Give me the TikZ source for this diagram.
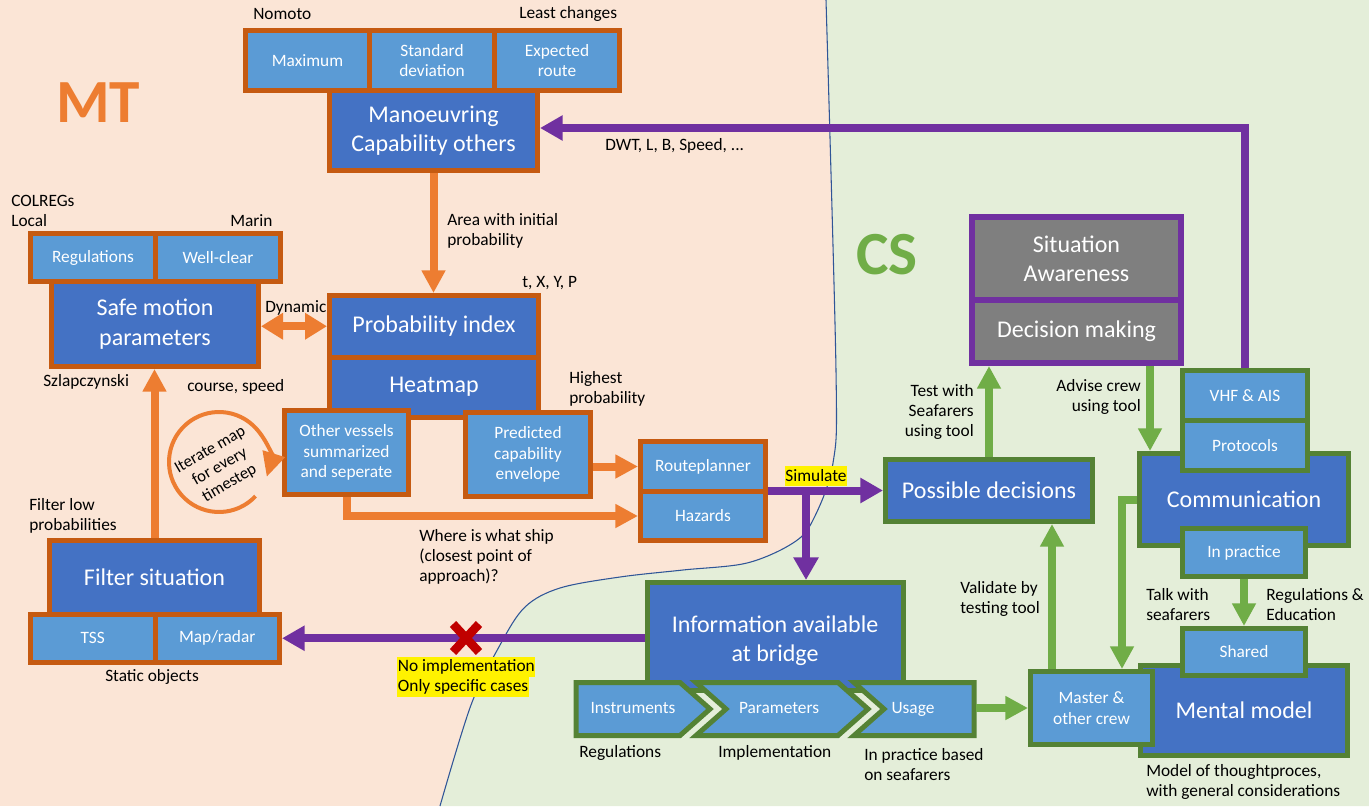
\documentclass[tikz,border=0pt]{standalone}
\usepackage{fontspec}
\setmainfont{Carlito}
\usetikzlibrary{arrows.meta,calc}
\definecolor{bgsal}{HTML}{FBE5D6}
\definecolor{bggrn}{HTML}{E4EED9}
\definecolor{dblue}{HTML}{4472C4}
\definecolor{lblue}{HTML}{5B9BD5}
\definecolor{obord}{HTML}{C55A11}
\definecolor{oarrow}{HTML}{ED7D31}
\definecolor{purp}{HTML}{7030A0}
\definecolor{gbord}{HTML}{548235}
\definecolor{garrow}{HTML}{70AD47}
\definecolor{gboxc}{HTML}{7F7F7F}
\definecolor{bline}{HTML}{2F5597}
\definecolor{xred}{HTML}{C00000}
\tikzset{
 bx/.style={inner sep=0pt, line width=3.75pt, text=white, align=center},
 ob/.style={bx, draw=obord},
 gb/.style={bx, draw=gbord},
 pb/.style={bx, draw=purp, line width=4.5pt},
 bigtxt/.style={font=\fontsize{18}{22}\selectfont},
 smtxt/.style={font=\fontsize{13}{15.5}\selectfont},
 fdk/.style={fill=dblue}, flt/.style={fill=lblue}, fgr/.style={fill=gboxc},
 lbl/.style={font=\fontsize{13}{15}\selectfont, inner sep=0pt, text=black},
 oarr/.style={draw=oarrow, line width=6pt, -{Triangle[length=17pt,width=17pt]}},
 parr/.style={draw=purp, line width=6pt, -{Triangle[length=17pt,width=18pt]}},
 garr/.style={draw=garrow, line width=6pt, -{Triangle[length=17pt,width=17pt]}},
 hlt/.style={lbl, fill=yellow, inner xsep=0.5pt, inner ysep=0pt, minimum height=15pt},
 chev/.style={draw=gbord, fill=lblue, line width=3.75pt},
}
% box node from border-line corners (x1,y1)-(x2,y2) in pixel units
\newcommand\bxnode[7]{%
  \node[#1, minimum width={(#5-#3)*0.75pt}, minimum height={(#6-#4)*0.75pt}] (#2) at ({(#3+#5)/2},{(#4+#6)/2}) {#7};}
\begin{document}
\begin{tikzpicture}[x=0.75pt,y=-0.75pt]
\useasboundingbox (0,0) rectangle (1369,806);
% background
\fill[bgsal] (0,0) rectangle (1369,806);
\fill[bggrn] plot[smooth, tension=0.55] coordinates {(826,0) (836,371) (833,463) (813,520) (793,543) (747,563) (683,570) (620,577) (560,588) (525,607) (500,645) (471,705) (440,806)} -- (1369,806) -- (1369,0) -- cycle;
\draw[bline, line width=0.8pt] plot[smooth, tension=0.55] coordinates {(826,0) (836,371) (833,463) (813,520) (793,543) (747,563) (683,570) (620,577) (560,588) (525,607) (500,645) (471,705) (440,806)};

% titles
\node[font={\fontsize{46}{50}\selectfont\bfseries}, text=oarrow] (mt) at (98,103) {MT};
\node[font={\fontsize{46}{50}\selectfont\bfseries}, text=garrow] (cs) at (887,255) {CS};

% top group
\bxnode{ob,flt,smtxt}{maxi}{245.5}{30.5}{369.5}{90.5}{Maximum}
\bxnode{ob,flt,smtxt}{stdv}{369.5}{30.5}{494.5}{90.5}{Standard\\deviation}
\bxnode{ob,flt,smtxt}{expr}{494.5}{30.5}{619.5}{90.5}{Expected\\route}
\bxnode{ob,fdk,bigtxt}{mano}{329.5}{90.5}{537.5}{170.5}{Manoeuvring\\Capability others}

% regulations group
\bxnode{ob,flt,smtxt}{regs}{30.5}{233.5}{155.5}{281.5}{Regulations}
\bxnode{ob,flt,smtxt}{wellc}{155.5}{233.5}{280.5}{281.5}{Well-clear}
\bxnode{ob,fdk,bigtxt}{safe}{51.5}{281.5}{258.5}{366.5}{Safe motion\\parameters}

% probability / heatmap
\bxnode{ob,fdk,bigtxt}{prob}{329.5}{295.5}{538.5}{357}{Probability index}
\bxnode{ob,fdk,bigtxt}{heat}{329.5}{357}{538.5}{417}{Heatmap}
\bxnode{ob,flt,smtxt}{other}{284.5}{410.5}{408.5}{494.5}{Other vessels\\summarized\\and seperate}
\bxnode{ob,flt,smtxt}{pred}{465.5}{412.5}{590.5}{496.5}{Predicted\\capability\\envelope}
\bxnode{ob,flt,smtxt}{route}{640.5}{441.5}{765.5}{491.5}{Routeplanner}
\bxnode{ob,flt,smtxt}{haz}{640.5}{491.5}{765.5}{540.5}{Hazards}

% filter
\bxnode{ob,fdk,bigtxt}{filt}{49.5}{540.5}{259.5}{614}{Filter situation}
\bxnode{ob,flt,smtxt}{tss}{30.5}{614}{155}{662.5}{TSS}
\bxnode{ob,flt,smtxt}{mapr}{155}{614}{279.5}{662.5}{Map/radar}

% right side
\bxnode{pb,fgr,bigtxt}{sit}{972}{217}{1181}{300}{Situation\\Awareness}
\bxnode{pb,fgr,bigtxt}{dec}{972}{300}{1181}{363}{Decision making}
\bxnode{gb,fdk,bigtxt}{poss}{885.5}{459.5}{1092.5}{521.5}{Possible decisions}
\bxnode{gb,fdk,bigtxt}{comm}{1139.5}{453.5}{1348.5}{545.5}{Communication}
\bxnode{gb,flt,smtxt}{vhf}{1182.5}{370.5}{1307.5}{420.5}{VHF \& AIS}
\bxnode{gb,flt,smtxt}{proto}{1182.5}{420.5}{1307.5}{470.5}{Protocols}
\bxnode{gb,flt,smtxt}{inpr}{1182.5}{528.5}{1305.5}{576.5}{In practice}
\bxnode{gb,fdk,bigtxt}{mental}{1140.5}{665.5}{1347.5}{755.5}{Mental model}
\bxnode{gb,flt,smtxt}{shared}{1182.5}{628.5}{1305.5}{675.5}{Shared}
\bxnode{gb,flt,smtxt}{master}{1030.5}{671.5}{1152.5}{744.5}{Master \&\\other crew}

% information at bridge
\bxnode{gb,fdk}{info}{647.5}{582.5}{903.5}{690}{}
\node[bigtxt,text=white,align=center] (infot) at (775,641) {Information available\\at bridge};
\draw[chev] (576,682.5) -- (680,682.5) -- (710,709) -- (680,735.5) -- (576,735.5) -- cycle;
\draw[chev] (696,682.5) -- (838,682.5) -- (868,709) -- (838,735.5) -- (696,735.5) -- (726,709) -- cycle;
\draw[chev] (854,682.5) -- (974,682.5) -- (974,735.5) -- (854,735.5) -- (884,709) -- cycle;
\node[smtxt,text=white] (instr) at (633,708) {Instruments};
\node[smtxt,text=white] (param) at (779,708) {Parameters};
\node[smtxt,text=white] (usage) at (913,709) {Usage};

% helper coordinates
\coordinate (k128) at (0,128);
\coordinate (simc) at (806,0);
\coordinate (g1052) at (1052,0);
\coordinate (g1122) at (1122,0);
\coordinate (g1150) at (1150,0);
\coordinate (usageR) at (976,708);

% orange connectors
\draw[oarr] (mano.south) -- (mano.south |- prob.north);
\draw[draw=oarrow, line width=6pt, {Triangle[length=16.5pt,width=19pt]}-{Triangle[length=16.5pt,width=19pt]}] (safe.east |- prob.west) -- (prob.west);
\draw[oarr] (filt.north) -- (filt.north |- safe.south);
\draw[oarr] (other.south) |- (haz.west);
\draw[oarr] (pred.east |- route.west) -- (route.west);
\draw[draw=oarrow, line width=3pt, -{Triangle[length=18pt,width=17pt]}] (219,462) ++(43:50) arc[start angle=43, end angle=377, radius=50];
\node[lbl, font=\fontsize{12.5}{14.5}\selectfont, rotate=30, align=center] (iter) at (220,467) {Iterate map\\for every\\timestep};

% purple connectors
\draw[parr] (vhf.north) |- (mano.east |- k128);
\draw[parr] (route.east |- poss.west) -- (poss.west);
\draw[parr] (simc |- poss.west) -- (simc |- info.north);
\draw[parr] (info.west |- mapr.east) -- (mapr.east);
\draw[xred, line width=6.5pt] (453,624) -- (479,652) (453,652) -- (479,624);

% green connectors
\draw[garr] (poss.north) -- (poss.north |- dec.south);
\draw[garr] (g1150 |- dec.south) -- (g1150 |- comm.north);
\draw[garr] (comm.west) -| (g1122 |- master.north);
\draw[garr] (g1052 |- master.north) -- (g1052 |- poss.south);
\draw[garr] (inpr.south) -- (inpr.south |- shared.north);
\draw[garr] (usageR) -- (master.west);

% labels
\node[lbl,anchor=west] (nomoto) at (253,14) {Nomoto};
\node[lbl,anchor=west] (least) at (519,14) {Least changes};
\node[lbl,anchor=west,align=left] (colregs) at (11,210.5) {COLREGs\\Local};
\node[lbl,anchor=west] (marin) at (230,221) {Marin};
\node[lbl,anchor=west] (szl) at (43,382) {Szlapczynski};
\node[lbl,anchor=west] (cspeed) at (187,387) {course, speed};
\node[lbl,anchor=west] (dyn) at (265,308) {Dynamic};
\node[lbl,anchor=west,align=left] (area) at (447,231) {Area with initial\\probability};
\node[lbl,anchor=west] (txyp) at (522,283) {t, X, Y, P};
\node[lbl,anchor=west,align=left] (highp) at (569,389) {Highest\\probability};
\node[lbl,anchor=west,align=left] (where) at (419,557) {Where is what ship\\(closest point of\\approach)?};
\node[lbl,anchor=west,align=left] (flow) at (29,515.5) {Filter low\\probabilities};
\node[lbl,anchor=west] (static) at (105,677) {Static objects};
\node[lbl,anchor=west] (dwt) at (605,146) {DWT, L, B, Speed, ...};
\node[lbl,anchor=east,align=right] (testw) at (974,412) {Test with\\Seafarers\\using tool};
\node[lbl,anchor=east,align=right] (advise) at (1141,396.5) {Advise crew\\using tool};
\node[lbl,anchor=west,align=left] (valid) at (960,598.5) {Validate by\\testing tool};
\node[lbl,anchor=west,align=left] (talk) at (1146,604.5) {Talk with\\seafarers};
\node[lbl,anchor=west,align=left] (regedu) at (1266,604.5) {Regulations \&\\Education};
\node[lbl,anchor=west,align=left] (modelof) at (1146,781.5) {Model of thoughtproces,\\with general considerations};
\node[lbl,anchor=west] (regb) at (579,753) {Regulations};
\node[lbl,anchor=west] (impl) at (718,753) {Implementation};
\node[lbl,anchor=west,align=left] (inpb) at (864,764.5) {In practice based\\on seafarers};
\node[hlt] (simul) at (816,476) {Simulate};
\node[hlt,anchor=west] (noimp) at (397,667) {No implementation};
\node[hlt,anchor=west] (onlys) at (397,687) {Only specific cases};
\end{tikzpicture}
\end{document}
